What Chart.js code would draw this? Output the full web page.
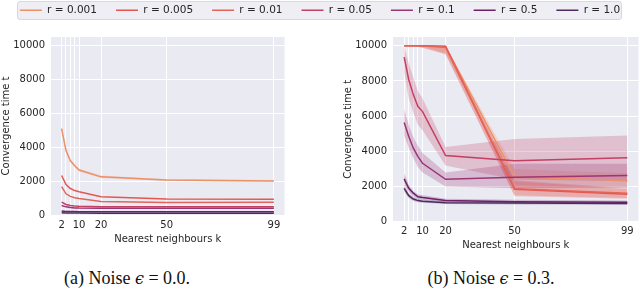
<!DOCTYPE html>
<html>
<head>
<meta charset="utf-8">
<script src="https://cdn.jsdelivr.net/npm/chart.js@4.4.1/dist/chart.umd.min.js"></script>
<style>
    body { margin: 0; background: #fff; width: 640px; height: 292px; position: relative; overflow: hidden; }
    canvas { position: absolute; }
    #legend-box { position: absolute; left: 17px; top: 1px; width: 603px; height: 17px; background: #eeeef4; border: 1px solid #d8d8e0; border-radius: 3px; }
    #legend { left: 0; top: -14px; }
    #chart-a { left: 0; top: 24px; }
    #chart-b { left: 320px; top: 24px; }
    .caption { position: absolute; top: 268px; width: 240px; text-align: center; font-family: "Liberation Serif", serif; font-size: 18px; color: #111; }
    .caption i { font-family: "DejaVu Serif", serif; font-size: 16px; }
</style>
</head>
<body>
<div id="legend-box"></div>
<canvas id="chart-a" width="300" height="230"></canvas>
<canvas id="chart-b" width="320" height="230"></canvas>
<canvas id="legend" width="640" height="60"></canvas>
<div class="caption" style="left: 7px;">(a) Noise <i>ϵ</i> = 0.0.</div>
<div class="caption" style="left: 371px;">(b) Noise <i>ϵ</i> = 0.3.</div>

<script>
// nearest neighbours k (grid lines) and the ones that get a label
const k_values = [2, 4, 6, 8, 10, 20, 50, 99];
const k_labels = [2, 10, 20, 50, 99];
const y_ticks = [0, 2000, 4000, 6000, 8000, 10000];
const rates = ['0.001', '0.005', '0.01', '0.05', '0.1', '0.5', '1.0'];
const colors = ['#ee9066', '#e4574e', '#e2645a', '#c33f63', '#9c3573', '#6e2067', '#4f2b60'];
const band_colors = ['rgba(238,144,102,0.25)', 'rgba(228,87,78,0.25)', 'rgba(226,100,90,0.25)',
    'rgba(195,63,99,0.25)', 'rgba(156,53,115,0.25)', 'rgba(110,32,103,0.25)', 'rgba(79,43,96,0.25)'];

// ____ noise 0.0 ____
const a_r0001 = [5100, 3800, 3200, 2900, 2650, 2250, 2060, 2000];
const a_r0005 = [2330, 1800, 1560, 1440, 1370, 1080, 950, 930];
const a_r001 = [1670, 1250, 1100, 1020, 970, 790, 740, 750];
const a_r005 = [760, 620, 560, 530, 510, 480, 480, 490];
const a_r01 = [560, 480, 440, 420, 410, 400, 400, 400];
const a_r05 = [230, 210, 200, 200, 195, 190, 190, 190];
const a_r10 = [140, 125, 120, 115, 115, 110, 110, 110];
const a_r0001_lo = [4950, 3700, 3120, 2830, 2570, 2180, 2000, 1940];
const a_r0001_hi = [5250, 3900, 3300, 2980, 2730, 2330, 2110, 2060];

// ____ noise 0.3 ____
const b_r0001 = [10000, 10000, 10000, 10000, 10000, 9950, 2550, 2330];
const b_r0005 = [10000, 10000, 10000, 10000, 10000, 9980, 1850, 1560];
const b_r001 = [10000, 10000, 10000, 10000, 9990, 9920, 1880, 1620];
const b_r005 = [9360, 8070, 7210, 6550, 6260, 3760, 3470, 3640];
const b_r01 = [5640, 4840, 4180, 3700, 3320, 2410, 2520, 2620];
const b_r05 = [2430, 1900, 1620, 1420, 1370, 1200, 1140, 1100];
const b_r10 = [1900, 1480, 1290, 1200, 1160, 1080, 1060, 1040];

const b_r0001_lo = [10000, 10000, 10000, 10000, 9980, 9600, 2100, 1900];
const b_r0001_hi = [10000, 10000, 10000, 10000, 10000, 10000, 3000, 2750];
const b_r0005_lo = [10000, 10000, 10000, 9950, 9900, 9500, 1450, 1300];
const b_r0005_hi = [10000, 10000, 10000, 10000, 10000, 10000, 2300, 1850];
const b_r001_lo = [10000, 10000, 10000, 9950, 9880, 9550, 1500, 1350];
const b_r001_hi = [10000, 10000, 10000, 10000, 10000, 10000, 2350, 1900];
const b_r005_lo = [8500, 7000, 6200, 5500, 5200, 3200, 2400, 2300];
const b_r005_hi = [9950, 9000, 8200, 7400, 7000, 4250, 4700, 4900];
const b_r01_lo = [4900, 4200, 3600, 3100, 2800, 2000, 1900, 1950];
const b_r01_hi = [6400, 5500, 4800, 4300, 3900, 2800, 3300, 3300];
const b_r05_lo = [2150, 1700, 1450, 1300, 1250, 1100, 1050, 1000];
const b_r05_hi = [2750, 2100, 1750, 1550, 1500, 1300, 1250, 1200];
const b_r10_lo = [1700, 1350, 1180, 1100, 1080, 1000, 980, 960];
const b_r10_hi = [2100, 1600, 1400, 1300, 1250, 1160, 1140, 1120];

const text_color = '#262626';
const font_family = '"DejaVu Sans", sans-serif';


function points(values) {
    return k_values.map(function (k, i) {
        return {x: k, y: values[i]};
    });
}

function make_datasets(means, lows, highs) {
    let datasets = [];
    means.forEach(function (values, i) {
        datasets.push({
            label: 'r = ' + rates[i],
            data: points(values),
            borderColor: colors[i],
            borderWidth: 1.5,
            pointRadius: 0,
            fill: false,
            order: 10 - i,
        });
    });
    means.forEach(function (values, i) {
        if (!lows[i]) return;
        datasets.push({
            data: points(highs[i]),
            borderColor: 'transparent',
            borderWidth: 0,
            pointRadius: 0,
            backgroundColor: band_colors[i],
            fill: '+1',
            order: 50 - i,
        });
        datasets.push({
            data: points(lows[i]),
            borderColor: 'transparent',
            borderWidth: 0,
            pointRadius: 0,
            fill: false,
            order: 50 - i,
        });
    });
    return datasets;
}

// fond gris du seaborn darkgrid
const plot_background = {
    id: 'plot_background',
    beforeDraw: function (chart) {
        let area = chart.chartArea;
        chart.ctx.save();
        chart.ctx.fillStyle = '#eaeaf2';
        chart.ctx.fillRect(area.left, area.top, area.right - area.left, area.bottom - area.top);
        chart.ctx.restore();
    }
};

function draw_panel(id, datasets, p) {
    new Chart(document.getElementById(id), {
        type: 'line',
        data: {datasets: datasets},
        plugins: [plot_background],
        options: {
            responsive: false,
            animation: false,
            events: [],
            layout: {padding: {top: 13, right: p.right, left: 0, bottom: 0}},
            plugins: {legend: {display: false}, tooltip: {enabled: false}},
            scales: {
                x: {
                    type: 'linear',
                    min: -2.85,
                    max: 103.85,
                    afterBuildTicks: function (scale) {
                        scale.ticks = k_values.map(function (v) { return {value: v}; });
                    },
                    afterFit: function (scale) { scale.height = p.x_height; },
                    grid: {color: '#ffffff', lineWidth: 1, drawTicks: false},
                    border: {display: false},
                    ticks: {
                        autoSkip: false,
                        maxRotation: 0,
                        padding: 4,
                        color: text_color,
                        font: {family: font_family, size: 10},
                        callback: function (v) { return k_labels.includes(v) ? String(v) : ''; }
                    },
                    title: {
                        display: true,
                        text: 'Nearest neighbours k',
                        color: text_color,
                        font: {family: font_family, size: 10},
                        padding: {top: 0, bottom: p.x_title}
                    }
                },
                y: {
                    min: 0,
                    max: 10500,
                    afterBuildTicks: function (scale) {
                        scale.ticks = y_ticks.map(function (v) { return {value: v}; });
                    },
                    afterFit: function (scale) { scale.width = p.y_width; },
                    grid: {color: '#ffffff', lineWidth: 1, drawTicks: false},
                    border: {display: false},
                    ticks: {
                        padding: 6,
                        color: text_color,
                        font: {family: font_family, size: 10},
                        callback: function (v) { return String(v); }
                    },
                    title: {
                        display: true,
                        text: 'Convergence time t',
                        color: text_color,
                        font: {family: font_family, size: 10},
                        padding: {top: p.y_title, bottom: 0}
                    }
                }
            }
        }
    });
}

draw_panel('chart-a',
    make_datasets([a_r0001, a_r0005, a_r001, a_r005, a_r01, a_r05, a_r10],
        [a_r0001_lo], [a_r0001_hi]),
    {right: 15.5, x_height: 39, x_title: 8.5, y_width: 51, y_title: 0});

draw_panel('chart-b',
    make_datasets([b_r0001, b_r0005, b_r001, b_r005, b_r01, b_r05, b_r10],
        [b_r0001_lo, b_r0005_lo, b_r001_lo, b_r005_lo, b_r01_lo, b_r05_lo, b_r10_lo],
        [b_r0001_hi, b_r0005_hi, b_r001_hi, b_r005_hi, b_r01_hi, b_r05_hi, b_r10_hi]),
    {right: 1.5, x_height: 32.3, x_title: 2.5, y_width: 73, y_title: 22.5});

// legende commune
new Chart(document.getElementById('legend'), {
    type: 'line',
    data: {
        datasets: rates.map(function (r, i) {
            return {label: 'r = ' + r, data: [], borderColor: colors[i], backgroundColor: colors[i], borderWidth: 1.5};
        })
    },
    options: {
        responsive: false,
        animation: false,
        events: [],
        scales: {x: {display: false}, y: {display: false}},
        plugins: {
            tooltip: {enabled: false},
            legend: {
                display: true,
                position: 'top',
                labels: {
                    usePointStyle: true,
                    pointStyle: 'line',
                    pointStyleWidth: 22,
                    padding: 19,
                    color: text_color,
                    font: {family: font_family, size: 10.5}
                }
            }
        }
    }
});
</script>
</body>
</html>
